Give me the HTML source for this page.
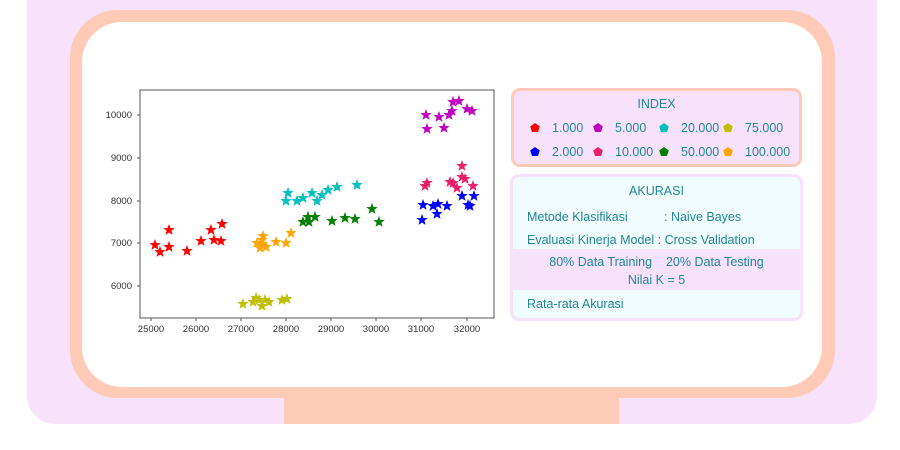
<!DOCTYPE html>
<html><head><meta charset="utf-8"><style>
body{margin:0;width:900px;height:450px;background:#fff;position:relative;overflow:hidden;font-family:"Liberation Sans",sans-serif}
.outer{position:absolute;left:27px;top:-30px;width:850px;height:454px;background:#f8e1fb;border-radius:28px}
.stand{position:absolute;left:284px;top:395px;width:335px;height:29px;background:#ffcbb6}
.frame{position:absolute;left:70px;top:10px;width:765px;height:388px;background:#ffcbb6;border-radius:48px}
.inner{position:absolute;left:82px;top:22px;width:740px;height:365px;background:#fff;border-radius:40px}
.box{position:absolute;color:#218796;font-size:12.5px}
.idx{left:511px;top:88px;width:285px;height:73px;background:#f8e1fb;border:3px solid #ffcbb6;border-radius:9px}
.ak{left:510px;top:174px;width:287px;height:141px;background:#effbfc;border:3px solid #f8e1fb;border-radius:9px;overflow:hidden}
.t{position:absolute;white-space:nowrap}
</style></head><body>
<div class="outer"></div>
<div class="stand"></div>
<div class="frame"></div>
<div class="inner"></div>
<svg style="position:absolute;left:0;top:0" width="900" height="450">
<defs><polygon id="s" points="0,-6 1.47,-2.02 5.71,-1.85 2.38,0.77 3.53,4.85 0,2.5 -3.53,4.85 -2.38,0.77 -5.71,-1.85 -1.47,-2.02"/></defs>
<rect x="140" y="90" width="354" height="228" fill="#fff" stroke="#555" stroke-width="1"/>
<g font-size="9.5" fill="#333" text-anchor="middle" font-family="Liberation Sans">
<text x="151" y="332">25000</text><text x="196" y="332">26000</text><text x="241" y="332">27000</text><text x="286" y="332">28000</text><text x="331" y="332">29000</text><text x="376" y="332">30000</text><text x="421" y="332">31000</text><text x="467" y="332">32000</text>
</g>
<g font-size="9.5" fill="#333" text-anchor="end" font-family="Liberation Sans">
<text x="132" y="118">10000</text><text x="132" y="161">9000</text><text x="132" y="204">8000</text><text x="132" y="246">7000</text><text x="132" y="289">6000</text>
</g>
<g stroke="#555" stroke-width="1">
<line x1="151" y1="318" x2="151" y2="321"/><line x1="196" y1="318" x2="196" y2="321"/><line x1="241" y1="318" x2="241" y2="321"/><line x1="286" y1="318" x2="286" y2="321"/><line x1="331" y1="318" x2="331" y2="321"/><line x1="376" y1="318" x2="376" y2="321"/><line x1="421" y1="318" x2="421" y2="321"/><line x1="467" y1="318" x2="467" y2="321"/>
<line x1="137" y1="115" x2="140" y2="115"/><line x1="137" y1="158" x2="140" y2="158"/><line x1="137" y1="201" x2="140" y2="201"/><line x1="137" y1="243" x2="140" y2="243"/><line x1="137" y1="286" x2="140" y2="286"/>
</g>
<g fill="#ff0000"><use href="#s" x="155" y="245"/><use href="#s" x="160" y="252"/><use href="#s" x="169" y="230"/><use href="#s" x="169" y="247"/><use href="#s" x="187" y="251"/><use href="#s" x="201" y="241"/><use href="#s" x="211" y="230"/><use href="#s" x="214" y="240"/><use href="#s" x="221" y="241"/><use href="#s" x="222" y="224"/></g>
<g fill="#bfbf00"><use href="#s" x="243" y="304"/><use href="#s" x="253" y="302"/><use href="#s" x="259" y="300"/><use href="#s" x="262" y="306"/><use href="#s" x="269" y="302"/><use href="#s" x="282" y="300"/><use href="#s" x="287" y="299"/><use href="#s" x="256" y="298"/><use href="#s" x="265" y="300"/></g>
<g fill="#ffa500"><use href="#s" x="257" y="243"/><use href="#s" x="260" y="248"/><use href="#s" x="263" y="244"/><use href="#s" x="266" y="247"/><use href="#s" x="262" y="240"/><use href="#s" x="263" y="236"/><use href="#s" x="276" y="242"/><use href="#s" x="286" y="243"/><use href="#s" x="291" y="233"/></g>
<g fill="#00bfbf"><use href="#s" x="286" y="201"/><use href="#s" x="288" y="193"/><use href="#s" x="297" y="201"/><use href="#s" x="303" y="198"/><use href="#s" x="312" y="193"/><use href="#s" x="317" y="201"/><use href="#s" x="322" y="195"/><use href="#s" x="328" y="190"/><use href="#s" x="337" y="187"/><use href="#s" x="357" y="185"/></g>
<g fill="#008000"><use href="#s" x="303" y="222"/><use href="#s" x="308" y="217"/><use href="#s" x="315" y="217"/><use href="#s" x="309" y="222"/><use href="#s" x="332" y="221"/><use href="#s" x="345" y="218"/><use href="#s" x="355" y="219"/><use href="#s" x="372" y="209"/><use href="#s" x="379" y="222"/></g>
<g fill="#0000ff"><use href="#s" x="422" y="220"/><use href="#s" x="423" y="205"/><use href="#s" x="433" y="206"/><use href="#s" x="437" y="214"/><use href="#s" x="438" y="204"/><use href="#s" x="447" y="206"/><use href="#s" x="462" y="196"/><use href="#s" x="468" y="205"/><use href="#s" x="470" y="206"/><use href="#s" x="474" y="196"/></g>
<g fill="#e8206a"><use href="#s" x="425" y="186"/><use href="#s" x="427" y="183"/><use href="#s" x="450" y="182"/><use href="#s" x="453" y="183"/><use href="#s" x="457" y="188"/><use href="#s" x="462" y="166"/><use href="#s" x="462" y="177"/><use href="#s" x="465" y="179"/><use href="#s" x="473" y="186"/></g>
<g fill="#bf00bf"><use href="#s" x="426" y="115"/><use href="#s" x="427" y="129"/><use href="#s" x="439" y="117"/><use href="#s" x="444" y="128"/><use href="#s" x="449" y="115"/><use href="#s" x="452" y="111"/><use href="#s" x="453" y="102"/><use href="#s" x="459" y="101"/><use href="#s" x="467" y="109"/><use href="#s" x="472" y="111"/></g>
</svg>
<div class="box idx">
<div class="t" style="left:0;width:285px;text-align:center;top:6px">INDEX</div>
<svg style="position:absolute;left:0;top:0" width="285" height="73">
<defs><polygon id="p" points="0,-5 4.8,-1.5 3,4 -3,4 -4.8,-1.5"/></defs>
<use href="#p" x="21" y="37" fill="#ff0000"/><use href="#p" x="84" y="37" fill="#bf00bf"/><use href="#p" x="150" y="37" fill="#00bfbf"/><use href="#p" x="214" y="37" fill="#bfbf00"/>
<use href="#p" x="21" y="61" fill="#0000ff"/><use href="#p" x="84" y="61" fill="#e8206a"/><use href="#p" x="150" y="61" fill="#008000"/><use href="#p" x="214" y="61" fill="#ffa500"/>
</svg>
<div class="t" style="left:38px;top:30px">1.000</div><div class="t" style="left:101px;top:30px">5.000</div><div class="t" style="left:167px;top:30px">20.000</div><div class="t" style="left:231px;top:30px">75.000</div>
<div class="t" style="left:38px;top:54px">2.000</div><div class="t" style="left:101px;top:54px">10.000</div><div class="t" style="left:167px;top:54px">50.000</div><div class="t" style="left:231px;top:54px">100.000</div>
</div>
<div class="box ak">
<div style="position:absolute;left:0;top:72px;width:287px;height:41px;background:#f8e1fb"></div>
<div class="t" style="left:0;width:287px;text-align:center;top:7px">AKURASI</div>
<div class="t" style="left:14px;top:33px">Metode Klasifikasi</div><div class="t" style="left:151px;top:33px">: Naive Bayes</div>
<div class="t" style="left:14px;top:56px">Evaluasi Kinerja Model : Cross Validation</div>
<div class="t" style="left:0;width:287px;text-align:center;top:78px">80% Data Training&nbsp;&nbsp;&nbsp;&nbsp;20% Data Testing</div>
<div class="t" style="left:0;width:287px;text-align:center;top:96px">Nilai K = 5</div>
<div class="t" style="left:14px;top:120px">Rata-rata Akurasi</div>
</div>
</body></html>
